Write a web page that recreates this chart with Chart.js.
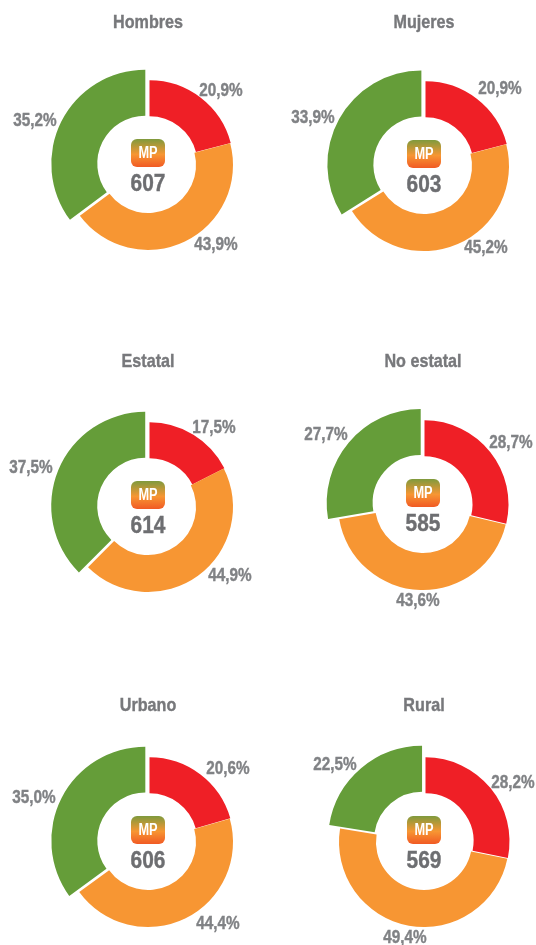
<!DOCTYPE html>
<html>
<head>
<meta charset="utf-8">
<script src="https://cdn.jsdelivr.net/npm/chart.js@4"></script>
<style>
    html, body { margin: 0; background: #fff; }
    body { position: relative; width: 536px; height: 945px; overflow: hidden; }
    canvas { position: absolute; }
</style>
</head>
<body>
<script>
const titles = ["Hombres", "Mujeres", "Estatal", "No estatal", "Urbano", "Rural"];
const scores = [607, 603, 614, 585, 606, 569];
const redValues = [20.9, 20.9, 17.5, 28.7, 20.6, 28.2];
const orangeValues = [43.9, 45.2, 44.9, 43.6, 44.4, 49.4];
const greenValues = [35.2, 33.9, 37.5, 27.7, 35.0, 22.5];

// layout, in page pixels
const centres = [[148, 165], [424, 166], [148, 507], [423, 505], [148, 842], [424, 842]];
const titleY = [23, 23, 362, 362, 706, 706];
// label offsets from the centre: red, orange, green
const labelOffsets = [
    [[73, -74], [68, 80], [-113, -44]],
    [[76, -77], [62, 82], [-111, -48]],
    [[66, -79], [82, 69], [-117, -39]],
    [[88, -62], [-5, 96], [-97, -70]],
    [[80, -73], [70, 82], [-114, -44]],
    [[89, -59], [-19, 96], [-89, -77]],
];

const RED = "#ef1f26";
const ORANGE = "#f79633";
const GREEN = "#659d39";
const GREY = "#808285";
const FONT = '"Liberation Sans", sans-serif';
const HALF_W = 145;
const HALF_H = 170;
const GREEN_RADIUS = 94; // the green slice sticks out past the others
const GREEN_SHIFT = 3;
const RED_SHIFT = 1.5;

// there is no condensed font installed, so squeeze the text sideways
function squeezedText(ctx, text, x, y, font, squeeze, heavy) {
    ctx.save();
    ctx.font = font;
    ctx.translate(x, y);
    ctx.scale(squeeze, 1);
    if (heavy) {
        ctx.strokeStyle = ctx.fillStyle;
        ctx.lineWidth = 0.4;
        ctx.strokeText(text, 0, 0);
    }
    ctx.fillText(text, 0, 0);
    ctx.restore();
}

const slicePlugin = {
    id: "slicePlugin",
    beforeDatasetsDraw(chart) {
        const arcs = chart.getDatasetMeta(0).data;
        const red = arcs[0];
        const green = arcs[2];
        const mid = (green.startAngle + green.endAngle) / 2;
        // red sits a little to the right, without poking out past the orange
        red.x = HALF_W + RED_SHIFT;
        red.y = HALF_H - 0.7;
        red.outerRadius = 84;
        green.outerRadius = GREEN_RADIUS;
        green.x = HALF_W + Math.cos(mid) * GREEN_SHIFT;
        green.y = HALF_H + Math.sin(mid) * GREEN_SHIFT;
    },
};

const textPlugin = {
    id: "textPlugin",
    afterDraw(chart, args, opts) {
        const ctx = chart.ctx;
        const cx = HALF_W;
        const cy = HALF_H;
        ctx.save();
        ctx.textAlign = "center";
        ctx.textBaseline = "middle";
        ctx.fillStyle = "#77787b";

        squeezedText(ctx, opts.title, cx, opts.titleTop, "bold 19px " + FONT, 0.85, true);

        // percent labels
        ctx.fillStyle = GREY;
        opts.values.forEach((v, i) => {
            const off = opts.offsets[i];
            const label = v.toFixed(1).replace(".", ",") + "%";
            squeezedText(ctx, label, cx + off[0], cy + off[1], "bold 18px " + FONT, 0.85, true);
        });

        // MP badge
        const grad = ctx.createLinearGradient(0, cy - 26, 0, cy + 2);
        grad.addColorStop(0, "#7f9a3d");
        grad.addColorStop(0.55, "#f79633");
        grad.addColorStop(1, "#f15a24");
        ctx.fillStyle = grad;
        ctx.beginPath();
        ctx.roundRect(cx - 17, cy - 26, 34, 28, 6);
        ctx.fill();
        ctx.fillStyle = "#fff";
        squeezedText(ctx, "MP", cx, cy - 11, "bold 16px " + FONT, 0.8, false);

        ctx.fillStyle = "#6d6e71";
        squeezedText(ctx, String(opts.score), cx, cy + 19, "bold 24px " + FONT, 0.87, true);
        ctx.restore();
    },
};

titles.forEach((title, i) => {
    const canvas = document.createElement("canvas");
    canvas.width = HALF_W * 2;
    canvas.height = HALF_H * 2;
    canvas.style.left = centres[i][0] - HALF_W + "px";
    canvas.style.top = centres[i][1] - HALF_H + "px";
    document.body.appendChild(canvas);

    const values = [redValues[i], orangeValues[i], greenValues[i]];
    new Chart(canvas, {
        type: "doughnut",
        data: {
            labels: ["Rojo", "Naranja", "Verde"],
            datasets: [
                {
                    data: values,
                    backgroundColor: [RED, ORANGE, GREEN],
                    borderWidth: 0,
                },
            ],
        },
        options: {
            responsive: false,
            animation: false,
            radius: 85,
            cutout: "56.5%",
            plugins: {
                legend: { display: false },
                tooltip: { enabled: false },
                textPlugin: {
                    title: title,
                    titleTop: titleY[i] - centres[i][1] + HALF_H,
                    values: values,
                    offsets: labelOffsets[i],
                    score: scores[i],
                },
            },
        },
        plugins: [slicePlugin, textPlugin],
    });
});
</script>
</body>
</html>
